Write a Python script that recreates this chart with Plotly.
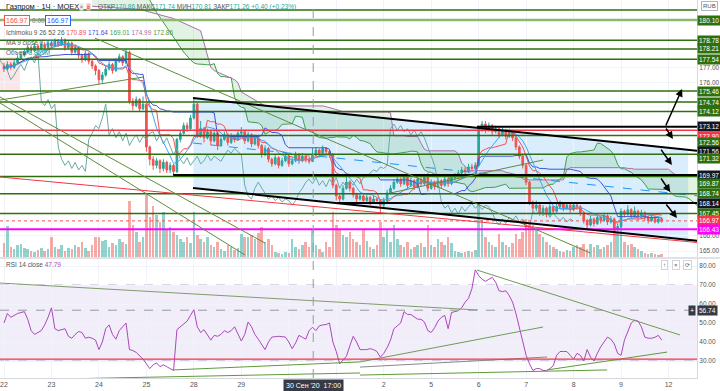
import numpy as np
import pandas as pd
import plotly.graph_objects as go

# ---------------- DATA ----------------
DAY_TICKS = [0, 14, 28, 42, 56, 70, 84, 98, 112, 126, 140, 154, 168, 182, 196]
DAY_LABELS = ["22", "23", "24", "25", "28", "29", "", "", "2", "5", "6", "7", "8", "9", "12"]

FIRST_OPEN = 177.1
CLOSE = [
    176.9, 177.2, 177.0, 177.3, 177.6,
    177.8, 178.0, 178.3, 178.1, 178.4, 178.2, 178.5, 178.3, 178.6,
    178.4, 178.7, 178.5, 178.8, 178.3, 178.6,
    178.0, 178.3, 177.8, 177.5, 177.9, 177.4, 177.1,
    176.8, 176.2, 176.5, 176.9,
    177.2, 176.8, 177.4, 177.7, 177.3,
    178.0, 174.8,
    174.5, 174.9, 174.3, 174.6,
    171.8, 171.0, 170.6,
    170.9, 170.4, 170.8, 170.3, 170.6,
    170.2,
    172.3, 172.7, 173.2, 173.0, 173.7,
    174.6, 172.6,
    173.0, 172.4, 172.8, 172.2, 172.7, 171.9, 172.3, 172.6, 172.1, 172.5, 172.3, 172.7,
    172.8, 172.2, 172.6, 172.0, 172.4,
    171.9, 171.3, 171.7, 171.0, 170.7,
    171.1, 170.6, 170.9, 171.2, 170.7, 170.9, 171.3,
    170.9, 171.2, 171.0, 170.86,
    171.26, 171.6, 171.4, 171.7, 171.5, 171.3,
    169.3, 168.6, 168.4,
    169.1, 169.5, 169.1,
    168.7, 168.4, 168.6, 168.3, 168.5, 168.2, 168.4, 168.3,
    168.0,
    168.3, 168.8, 169.1, 169.5, 169.7,
    169.4, 169.8, 169.3, 169.6, 169.2, 169.7, 169.4, 169.8,
    169.1,
    169.5, 169.2, 169.6, 169.3, 169.7, 169.4, 169.8,
    169.9, 170.1, 170.3, 170.2, 170.5, 170.4, 170.6,
    173.0,
    173.3, 172.9, 173.2,
    172.8, 173.0, 172.6, 172.9, 172.5, 172.8, 172.4,
    171.8, 171.2, 170.6,
    169.5, 168.2,
    167.8, 168.0, 167.5, 167.8, 167.4, 167.9, 167.6,
    167.9, 168.1, 167.8, 168.0, 167.7, 168.0, 167.9,
    167.5, 167.0, 166.7, 167.1, 166.8, 167.2,
    167.0, 167.3, 166.9, 167.1,
    166.4, 166.6,
    167.6,
    167.4, 167.7, 167.3, 167.6, 167.2, 167.5,
    167.2, 167.0, 167.2, 166.9, 167.1, 166.97,
]
HIGH = [
    177.3, 177.4, 177.35, 177.5, 177.8,
    178.0, 178.2, 178.5, 178.45, 178.6, 178.55, 178.7, 178.65, 178.8,
    178.75, 178.9, 178.85, 179.0, 178.9, 178.8,
    178.7, 178.5, 178.4, 177.9, 178.1, 178.0, 177.5,
    177.2, 176.9, 176.7, 177.1,
    177.4, 177.3, 177.6, 177.9, 177.8,
    178.2, 178.1,
    175.0, 175.1, 175.0, 175.1,
    174.7, 171.9, 171.2,
    171.1, 171.0, 171.0, 170.9, 170.8,
    170.7,
    172.4, 172.9, 173.4, 173.4, 173.9,
    175.0, 174.7,
    173.5, 173.1, 173.0, 172.9, 172.9, 172.8, 172.5, 172.8, 172.7, 172.7, 172.6, 172.9,
    173.1, 172.9, 172.8, 172.7, 172.6,
    172.5, 172.0, 171.9, 171.8, 171.1,
    171.3, 171.2, 171.1, 171.4, 171.3, 171.1, 171.5,
    171.4, 171.4, 171.3, 171.2,
    171.74, 171.8, 171.7, 171.9, 171.8, 171.6,
    171.4, 169.4, 168.8,
    169.3, 169.9, 169.6,
    169.2, 168.8, 168.8, 168.7, 168.7, 168.6, 168.6, 168.5,
    168.4,
    168.5, 169.0, 169.3, 169.7, 169.9,
    169.8, 170.0, 169.9, 169.8, 169.7, 169.9, 169.8, 170.0,
    170.1,
    169.7, 169.6, 169.8, 169.7, 169.9, 169.8, 170.0,
    170.1, 170.3, 170.5, 170.5, 170.7, 170.7, 170.8,
    173.2,
    173.5, 173.5, 173.4,
    173.3, 173.2, 173.1, 173.1, 173.0, 173.0, 172.9,
    172.5, 171.9, 171.3,
    170.7, 169.6,
    168.3, 168.3, 168.1, 168.0, 167.9, 168.1, 168.0,
    168.1, 168.3, 168.2, 168.2, 168.1, 168.2, 168.1,
    168.0, 167.6, 167.1, 167.3, 167.2, 167.4,
    167.3, 167.5, 167.4, 167.3,
    167.2, 166.8,
    167.8,
    167.7, 168.0, 167.8, 167.9, 167.7, 167.7,
    167.6, 167.3, 167.4, 167.3, 167.2, 167.2,
]
LOW = [
    176.7, 176.8, 176.85, 176.9, 177.2,
    177.5, 177.7, 177.9, 177.95, 178.0, 178.05, 178.1, 178.15, 178.2,
    178.25, 178.3, 178.35, 178.4, 178.1, 178.2,
    177.8, 177.9, 177.6, 177.3, 177.4, 177.2, 176.9,
    176.5, 175.9, 176.0, 176.4,
    176.8, 176.6, 176.7, 177.3, 177.1,
    177.2, 174.6,
    174.2, 174.4, 174.1, 174.2,
    171.5, 170.6, 170.3,
    170.4, 170.1, 170.2, 170.1, 170.1,
    169.97,
    170.1, 172.1, 172.6, 172.8, 172.9,
    173.6, 172.4,
    172.4, 172.1, 172.3, 171.9, 172.1, 171.6, 171.8, 172.2, 171.9, 172.0, 172.1, 172.2,
    172.5, 172.0, 172.1, 171.8, 171.9,
    171.7, 171.1, 171.2, 170.8, 170.5,
    170.6, 170.4, 170.5, 170.8, 170.5, 170.6, 170.8,
    170.7, 170.8, 170.8, 170.7,
    170.81, 171.2, 171.2, 171.3, 171.3, 171.1,
    169.1, 168.3, 168.1,
    168.3, 169.0, 168.9,
    168.5, 168.2, 168.3, 168.1, 168.2, 168.0, 168.1, 168.1,
    167.4,
    167.8, 168.2, 168.7, 169.0, 169.4,
    169.2, 169.3, 169.1, 169.2, 169.0, 169.1, 169.2, 169.3,
    168.9,
    169.0, 169.0, 169.1, 169.1, 169.2, 169.2, 169.3,
    169.6, 169.8, 170.0, 170.0, 170.1, 170.2, 170.3,
    170.5,
    172.8, 172.7, 172.8,
    172.6, 172.7, 172.4, 172.5, 172.3, 172.4, 172.2,
    171.6, 171.0, 170.4,
    169.3, 168.0,
    167.5, 167.6, 167.3, 167.4, 167.2, 167.3, 167.4,
    167.5, 167.8, 167.6, 167.7, 167.5, 167.6, 167.7,
    167.3, 166.8, 166.5, 166.6, 166.6, 166.7,
    166.8, 166.9, 166.7, 166.8,
    166.2, 166.3,
    166.5,
    167.2, 167.3, 167.1, 167.2, 167.0, 167.1,
    167.0, 166.8, 166.9, 166.8, 166.8, 166.85,
]
VOLUME_M = [
    4.4, 9.8, 3.2, 2.5, 3.8,
    4.1, 2.8, 2.5, 1.9, 1.6, 2.2, 2.8, 1.9, 2.5,
    6.3, 3.2, 2.5, 3.8, 1.9, 2.8,
    2.5, 3.8, 3.2, 4.7, 2.8, 1.9, 3.8,
    6.3, 6.3, 5.1, 5.4,
    3.2, 4.4, 3.8, 5.7, 4.7,
    4.1, 17.7,
    10.1, 7.9, 4.7, 6.3,
    19.6, 12.7, 16.1,
    13.3, 11.1, 14.2, 8.9, 9.5,
    7.9,
    7.0, 5.7, 4.7, 6.3, 4.4,
    14.2, 7.0,
    5.7, 4.7, 6.3, 3.8, 3.2, 4.7, 2.5, 1.9, 3.8, 3.2, 2.2, 2.8,
    7.3, 6.3, 6.3, 7.0, 5.7,
    7.6, 9.5, 4.7, 5.7, 3.8,
    1.6, 1.3, 0.9, 1.6, 1.3, 5.7, 3.2,
    2.5, 3.8, 4.7, 3.2,
    8.859, 3.8, 2.5, 1.6, 4.7, 3.2,
    14.2, 10.1, 8.5,
    7.0, 6.3, 7.9,
    5.7, 4.7, 3.8, 8.5, 5.1, 3.2, 2.5, 3.8,
    11.1,
    6.3, 8.9, 4.7, 10.1, 5.7,
    3.8, 3.2, 4.7, 2.5, 3.2, 3.8, 4.4, 3.2,
    10.1,
    3.8, 3.2, 5.7, 4.7, 3.8, 6.3, 4.4,
    1.9, 1.6, 1.3, 1.6, 1.9, 1.6, 2.2,
    16.8,
    11.7, 6.3, 4.7,
    3.8, 3.2, 7.3, 4.7, 3.8, 3.2, 4.4,
    7.3, 5.7, 7.9,
    12.0, 10.4,
    10.1, 8.9, 7.3, 6.3, 4.7, 3.8, 3.2,
    2.5, 1.9, 1.6, 2.2, 1.9, 3.2, 3.8,
    3.2, 4.1, 2.5, 4.1, 3.2, 3.8,
    2.5, 3.2, 3.8, 4.7,
    9.5, 7.9,
    9.5,
    4.7, 3.8, 4.1, 3.2, 2.5, 1.9,
    1.3, 0.9, 1.3, 0.9, 0.6, 0.9,
]
RSI = [
    50, 55, 53, 54, 55, 55.5, 56, 52, 46, 44,
    45, 46, 49, 53, 58, 47, 46, 46.5, 47, 43,
    42, 44, 45.5, 45, 42, 42.5, 42, 41, 36, 40,
    47, 49, 44, 41.5, 46, 48, 50, 36, 35.5, 34.5,
    33, 31, 28.5, 26, 28, 29, 27, 28, 27, 26,
    25, 46.5, 48, 49.5, 51, 54, 57, 48, 45, 46.5,
    44, 41, 43.5, 43, 44, 46, 45, 46, 48, 44,
    40.5, 44, 50.5, 48, 44, 41.5, 39, 36, 40, 42.6,
    42.8, 43, 42.8, 42.6, 40, 36.5, 39.5, 43.5, 42.5, 41.5,
    46, 47.79, 46, 48.5, 49, 49.2, 50, 40, 35, 28.5,
    30.5, 32.5, 38, 43, 40, 36, 36, 36, 36.5, 36,
    35, 32, 34, 37, 41, 47, 48.5, 50, 56, 54.5,
    54.5, 53, 52, 52, 50.5, 46, 45, 47.5, 51, 53,
    54, 47, 55.5, 56, 56.5, 58, 61, 63, 68, 78,
    75, 73, 72, 73, 74, 71.5, 67, 66.5, 67, 64.5,
    61, 55, 48, 40, 33, 28.5, 25, 26, 26, 25,
    25, 26, 27.5, 33, 35, 35, 35, 33, 31, 34,
    33, 30, 36, 32, 30, 34, 37.5, 40, 42.6, 41.5,
    39, 34, 33, 41, 46, 50, 51.5, 51, 48, 42.6,
    42, 42, 42.5, 43.5, 41,
]

# Ichimoku leading spans that depend on bars before the window: bar, price
LEAD_A_EARLY_X = [26, 42, 45, 50, 53, 55]
LEAD_A_EARLY = [182.5, 181.8, 180.6, 179.0, 178.0, 177.5]
LEAD_B_EARLY_X = [26, 40, 50, 58, 61, 62, 68, 69, 70, 76]
LEAD_B_EARLY = [181.0, 180.8, 180.2, 179.4, 177.0, 176.8, 176.2, 176.0, 175.4, 174.6]

# horizontal drawings (price levels)
GREEN_LEVELS = [180.75, 180.10, 178.78, 178.21, 177.54, 175.46, 174.74, 174.12, 172.56, 171.32, 169.87, 168.74, 167.45]
BLACK_LEVELS = [173.12, 169.97, 168.14]
BLACK_LEVEL_START = [139.5, 49.9, 98.2]
RED_LEVEL = 172.90
MAGENTA_LEVEL = 166.43
LAST_PRICE = 166.97

# parallel channel anchors (bar, price)
CHANNEL_TOP = [(55.75, 175.00), (204.4, 171.55)]
CHANNEL_BOTTOM = [(55.75, 169.12), (204.4, 165.67)]
CHANNEL_FILL_END = 201.8

# trend lines (bar, price)
GREEN_TRENDS = [
    ((26.8, 178.92), (172.9, 164.87)),
    ((-1.18, 175.07), (77.0, 165.52)),
    ((-1.18, 174.68), (71.1, 164.74)),
    ((-1.18, 174.87), (41.0, 176.37)),
    ((113.9, 168.79), (159.0, 170.95)),
]
RED_TREND = ((-1.18, 169.84), (204.4, 165.56))
ARROWS = [  # (head, tail)
    ((200.0, 175.59), (195.0, 173.11)),
    ((197.3, 172.32), (195.0, 173.11)),
    ((197.0, 170.62), (193.5, 171.73)),
    ((196.5, 168.86), (193.5, 169.84)),
    ((198.5, 167.16), (195.0, 168.14)),
]
PINK_BOX = ((-1.18, 175.52), (4.7, 177.68))

# RSI trend lines (bar, rsi)
RSI_TRENDS = [
    ((-1.18, 71.05), (139.8, 56.84), "#7f9c6b"),
    ((139.5, 77.9), (199.4, 43.7), "#6f9a55"),
    ((105.0, 29.5), (159.0, 47.9), "#6f9a55"),
    ((105.0, 26.8), (160.2, 32.1), "#888888"),
    ((160.2, 25.3), (195.6, 34.7), "#5e9a3a"),
    ((105.0, 22.6), (177.9, 25.3), "#5e9a3a"),
    ((49.9, 25.3), (105.0, 29.5), "#5e9a3a"),
    ((1.8, 20.0), (105.0, 23.7), "#5e9a3a"),
]
RSI_RED = 31.0
CROSS_BAR = 91.2
CROSS_RSI = 56.74

# price-axis labels: text, price, colour, vertical nudge (px)
AXIS_LABELS = [
    ("180.10", 180.10, "#2f6f0e", 0), ("178.78", 178.78, "#2f6f0e", 0),
    ("178.21", 178.21, "#2f6f0e", 0), ("177.54", 177.54, "#2f6f0e", 0),
    ("175.46", 175.46, "#2f6f0e", 0), ("174.74", 174.74, "#2f6f0e", 0),
    ("174.12", 174.12, "#2f6f0e", 0), ("173.12", 173.12, "#131722", 0),
    ("172.90", 172.90, "#f23645", -6), ("172.56", 172.56, "#2f6f0e", -7.5),
    ("171.56", 171.56, "#131722", -1), ("171.32", 171.32, "#2f6f0e", -4.6),
    ("169.97", 169.97, "#131722", 0), ("169.87", 169.87, "#2f6f0e", -6.5),
    ("168.74", 168.74, "#2f6f0e", 0), ("168.14", 168.14, "#131722", 0),
    ("167.45", 167.45, "#2f6f0e", 0), ("166.97", 166.97, "#f23645", 0),
    ("166.43", 166.43, "#ff00ff", 0),
]

# ---------------- DERIVED ----------------
N = len(CLOSE)
X = list(range(N))
OPEN = [FIRST_OPEN] + CLOSE[:-1]
h = pd.Series(HIGH)
l = pd.Series(LOW)
c = pd.Series(CLOSE)
tenkan = (h.rolling(9, min_periods=1).max() + l.rolling(9, min_periods=1).min()) / 2
kijun = (h.rolling(26, min_periods=1).max() + l.rolling(26, min_periods=1).min()) / 2
la = ((tenkan + kijun) / 2)
leadA_x = LEAD_A_EARLY_X + [i + 26 for i in X if i >= 30]
leadA = LEAD_A_EARLY + [la[i] for i in X if i >= 30]
lb = ((h.rolling(52).max() + l.rolling(52).min()) / 2)
leadB_x = LEAD_B_EARLY_X + [i + 26 for i in X if i >= 51]
leadB = LEAD_B_EARLY + [lb[i] for i in X if i >= 51]
ma9 = c.rolling(9, min_periods=1).mean()

# ---------------- FIGURE ----------------
W, H = 720, 391
PL, PR, PT, PB = 0, 23, 0, 13
PW, PH = W - PL - PR, H - PT - PB
MAIN_BOTTOM_PX = 257
RSI_TOP_PX = 259
X0, X1 = -1.18, 204.4
FONT = "Liberation Sans, Arial, sans-serif"
UP, DOWN = "#26a69a", "#ef5350"


def px(xp, yp):
    return xp / PW, 1 - yp / PH


fig = go.Figure()

fig.add_trace(go.Scatter(
    x=leadA_x + leadB_x[::-1], y=leadA + leadB[::-1], fill="toself",
    fillcolor="rgba(76,175,80,0.16)", line=dict(width=0), hoverinfo="skip",
    xaxis="x", yaxis="y"))
fig.add_trace(go.Scatter(x=leadA_x, y=leadA, mode="lines", line=dict(color="#43a047", width=1),
                         xaxis="x", yaxis="y"))
fig.add_trace(go.Scatter(x=leadB_x, y=leadB, mode="lines", line=dict(color="#ab6fb0", width=1),
                         xaxis="x", yaxis="y"))

vcol = ["rgba(38,166,154,0.5)" if CLOSE[i] >= OPEN[i] else "rgba(239,83,80,0.5)" for i in X]
fig.add_trace(go.Bar(x=X, y=VOLUME_M, marker=dict(color=vcol, line=dict(width=0)),
                     width=0.75, xaxis="x", yaxis="y3"))

fig.add_trace(go.Scatter(x=[i - 26 for i in X], y=CLOSE, mode="lines",
                         line=dict(color="#6aaaa3", width=1), xaxis="x", yaxis="y"))
fig.add_trace(go.Candlestick(
    x=X, open=OPEN, high=HIGH, low=LOW, close=CLOSE,
    increasing=dict(line=dict(color=UP, width=1), fillcolor=UP),
    decreasing=dict(line=dict(color=DOWN, width=1), fillcolor=DOWN),
    whiskerwidth=0, xaxis="x", yaxis="y"))
fig.add_trace(go.Scatter(x=X, y=tenkan, mode="lines", line=dict(color="#ef5350", width=1),
                         xaxis="x", yaxis="y"))
fig.add_trace(go.Scatter(x=X, y=kijun, mode="lines", line=dict(color="#3f51d5", width=1),
                         xaxis="x", yaxis="y"))
fig.add_trace(go.Scatter(x=X, y=ma9, mode="lines", line=dict(color="#42a5f5", width=1),
                         xaxis="x", yaxis="y"))

fig.add_trace(go.Scatter(x=X, y=RSI, mode="lines", line=dict(color="#ab47bc", width=1),
                         xaxis="x2", yaxis="y2"))

shapes = []
t0, t1 = CHANNEL_TOP
b0, b1 = CHANNEL_BOTTOM


def interp(p0, p1, xx):
    return p0[1] + (p1[1] - p0[1]) * (xx - p0[0]) / (p1[0] - p0[0])


fe = CHANNEL_FILL_END
path = (f"M {t0[0]},{t0[1]} L {fe},{interp(t0, t1, fe)} L {fe},{interp(b0, b1, fe)} "
        f"L {b0[0]},{b0[1]} Z")
shapes.append(dict(type="path", path=path, xref="x", yref="y", fillcolor="rgba(33,150,243,0.17)",
                   line=dict(width=0), layer="below"))
shapes.append(dict(type="line", xref="x", yref="y", x0=t0[0], y0=(t0[1] + b0[1]) / 2,
                   x1=t1[0], y1=(t1[1] + b1[1]) / 2, line=dict(color="#2196f3", width=1, dash="dash")))
shapes.append(dict(type="rect", xref="x", yref="y", x0=PINK_BOX[0][0], y0=PINK_BOX[0][1],
                   x1=PINK_BOX[1][0], y1=PINK_BOX[1][1], fillcolor="rgba(242,54,69,0.13)",
                   line=dict(width=0), layer="below"))
for p in GREEN_LEVELS:
    col = "#8db86f" if p == 180.10 else "#2f6f0e"
    wd = 2.5 if p == 180.10 else 1.5
    shapes.append(dict(type="line", xref="paper", yref="y", x0=0, x1=1, y0=p, y1=p,
                       line=dict(color=col, width=wd)))
shapes.append(dict(type="line", xref="paper", yref="y", x0=0, x1=1, y0=RED_LEVEL, y1=RED_LEVEL,
                   line=dict(color="#f23645", width=1.5)))
shapes.append(dict(type="line", xref="paper", yref="y", x0=0, x1=1, y0=MAGENTA_LEVEL, y1=MAGENTA_LEVEL,
                   line=dict(color="#ff00ff", width=2)))
shapes.append(dict(type="line", xref="paper", yref="y", x0=0, x1=1, y0=LAST_PRICE, y1=LAST_PRICE,
                   line=dict(color="#ef5350", width=1, dash="dot")))
for p, s in zip(BLACK_LEVELS, BLACK_LEVEL_START):
    shapes.append(dict(type="line", xref="x", yref="y", x0=s, x1=X1, y0=p, y1=p,
                       line=dict(color="#000000", width=2)))
for a, b in GREEN_TRENDS:
    shapes.append(dict(type="line", xref="x", yref="y", x0=a[0], y0=a[1], x1=b[0], y1=b[1],
                       line=dict(color="#5e8c3a", width=1)))
shapes.append(dict(type="line", xref="x", yref="y", x0=RED_TREND[0][0], y0=RED_TREND[0][1],
                   x1=RED_TREND[1][0], y1=RED_TREND[1][1], line=dict(color="#f23645", width=1)))
for a, b in (CHANNEL_TOP, CHANNEL_BOTTOM):
    shapes.append(dict(type="line", xref="x", yref="y", x0=a[0], y0=a[1], x1=b[0], y1=b[1],
                       line=dict(color="#000000", width=2)))

shapes.append(dict(type="rect", xref="paper", yref="y2", x0=0, x1=1, y0=30, y1=70,
                   fillcolor="rgba(126,87,194,0.10)", line=dict(width=0), layer="below"))
for lv in (70, 30):
    shapes.append(dict(type="line", xref="paper", yref="y2", x0=0, x1=1, y0=lv, y1=lv,
                       line=dict(color="#b2a6c8", width=1, dash="dash"), layer="below"))
for a, b, col in RSI_TRENDS:
    shapes.append(dict(type="line", xref="x2", yref="y2", x0=a[0], y0=a[1], x1=b[0], y1=b[1],
                       line=dict(color=col, width=1)))
shapes.append(dict(type="line", xref="paper", yref="y2", x0=0, x1=1, y0=RSI_RED, y1=RSI_RED,
                   line=dict(color="#f23645", width=1.2)))
shapes.append(dict(type="line", xref="x", yref="paper", x0=CROSS_BAR, x1=CROSS_BAR, y0=0, y1=1,
                   line=dict(color="#9598a1", width=1, dash="dash")))
shapes.append(dict(type="line", xref="paper", yref="y2", x0=0, x1=1, y0=CROSS_RSI, y1=CROSS_RSI,
                   line=dict(color="#9598a1", width=1, dash="dash")))
sy = 1 - (MAIN_BOTTOM_PX + 1) / PH
shapes.append(dict(type="line", xref="paper", yref="paper", x0=0, x1=1.04, y0=sy, y1=sy,
                   line=dict(color="#d6d8de", width=1.5)))

ann = []
for (hd, tl) in ARROWS:
    ann.append(dict(x=hd[0], y=hd[1], ax=tl[0], ay=tl[1], xref="x", yref="y", axref="x", ayref="y",
                    showarrow=True, arrowhead=2, arrowsize=1, arrowwidth=1.5, arrowcolor="#000000", text=""))
for txt_, p, col, sh in AXIS_LABELS:
    ann.append(dict(x=1, y=p, xref="paper", yref="y", xanchor="left", yanchor="middle", xshift=0,
                    yshift=sh, text=txt_, showarrow=False, bgcolor=col, borderpad=1,
                    font=dict(color="white", size=6.5, family=FONT)))
ann.append(dict(x=1, y=181.05, xref="paper", yref="y", xanchor="left", yanchor="middle", xshift=4,
                text="RUB", showarrow=False, bgcolor="white", bordercolor="#b2b5be", borderwidth=1,
                borderpad=1, font=dict(color="#555", size=6, family=FONT)))
ann.append(dict(x=1, y=CROSS_RSI, xref="paper", yref="y2", xanchor="left", yanchor="middle", xshift=0,
                text="56.74", showarrow=False, bgcolor="#363a45", borderpad=1,
                font=dict(color="white", size=6.5, family=FONT)))
ann.append(dict(x=1, y=CROSS_RSI, xref="paper", yref="y2", xanchor="right", yanchor="middle", xshift=-1,
                text="+", showarrow=False, bgcolor="#363a45", borderpad=1,
                font=dict(color="white", size=7, family=FONT)))
cx, cyy = px(313, 385)
ann.append(dict(x=cx, y=cyy, xref="paper", yref="paper", xanchor="center", yanchor="middle",
                text="30 Сен '20&nbsp;&nbsp;17:00", showarrow=False, bgcolor="#363a45", borderpad=2,
                font=dict(color="white", size=7, family=FONT)))


def txt(xp, yp, t, size=7, color="#131722", **kw):
    xx, yy = px(xp, yp)
    d = dict(x=xx, y=yy, xref="paper", yref="paper", xanchor="left", yanchor="middle", text=t,
             showarrow=False, font=dict(color=color, size=size, family=FONT))
    d.update(kw)
    ann.append(d)


G = "#26a69a"
txt(4, 7, "Газпром · 1Ч · MOEX", size=7.5, color="#131722")
txt(79, 7, "=", size=5, color="#777", bgcolor="#e8e8e8", borderpad=0)
txt(86, 7, "≡", size=5, color="#c33", bgcolor="#f8b5b5", borderpad=0)
txt(96, 7, f"ОТКР<span style='color:{G}'>170.86</span> МАКС<span style='color:{G}'>171.74</span> "
           f"МИН<span style='color:{G}'>170.81</span> ЗАКР<span style='color:{G}'>171.26 +0.40 (+0.23%)</span>",
    size=6.5, color="#555")
txt(4, 20, "166.97", size=7, color="#ef5350", bgcolor="white", bordercolor="#ef5350", borderwidth=1, borderpad=1)
txt(30, 20, "0.00", size=6.5, color="#787b86")
txt(45, 20, "166.97", size=7, color="#2962ff", bgcolor="white", bordercolor="#2962ff", borderwidth=1, borderpad=1)
txt(4, 32, "Ichimoku 9 26 52 26 <span style='color:#ef5350'>170.89</span> <span style='color:#3f51d5'>171.64</span> "
           "<span style='color:#43a047'>169.01</span> <span style='color:#ab6fb0'>174.99</span> "
           "<span style='color:#43a047'>172.86</span>", size=6.5, color="#555")
txt(4, 42, "MA 9 close 0 <span style='color:#2196f3'>170.82</span>", size=6.5, color="#555")
txt(4, 52, "Объем <span style='color:#26a69a'>8.859M</span>", size=6.5, color="#555")
txt(4, 264, "RSI 14 close <span style='color:#ab47bc'>47.79</span>", size=6.5, color="#555")
for i, sym in enumerate(["↑", "×", "⟳"]):
    txt(661 + i * 11, 265, sym, size=6, color="#555", bgcolor="white", bordercolor="#d1d4dc",
        borderwidth=1, borderpad=1)

main_dom = [1 - MAIN_BOTTOM_PX / PH, 1]
rsi_dom = [0, 1 - RSI_TOP_PX / PH]

fig.update_layout(
    width=W, height=H, margin=dict(l=PL, r=PR, t=PT, b=PB),
    paper_bgcolor="white", plot_bgcolor="white", showlegend=False,
    font=dict(family=FONT, size=7, color="#555"),
    shapes=shapes, annotations=ann, bargap=0,
    xaxis=dict(domain=[0, 1], range=[X0, X1], anchor="y", showticklabels=False,
               tickvals=DAY_TICKS, showgrid=True, gridcolor="#f0f3fa", zeroline=False,
               rangeslider=dict(visible=False), automargin=False),
    xaxis2=dict(domain=[0, 1], range=[X0, X1], anchor="y2", matches="x", tickvals=DAY_TICKS,
                ticktext=DAY_LABELS, showgrid=True, gridcolor="#f0f3fa", zeroline=False,
                showline=True, linecolor="#d6d8de", ticks="", tickfont=dict(size=7, color="#555"),
                automargin=False),
    yaxis=dict(domain=main_dom, range=[164.61, 181.41], side="right", anchor="x",
               tickvals=[165, 166, 176, 177], ticktext=["165.00", "166.00", "176.00", "177.00"],
               showgrid=True, gridcolor="#f0f3fa", zeroline=False, showline=True,
               linecolor="#d6d8de", ticks="", tickfont=dict(size=6.5, color="#555"), automargin=False),
    yaxis3=dict(domain=main_dom, range=[0, 81.3], overlaying="y", visible=False),
    yaxis2=dict(domain=rsi_dom, range=[21.05, 83.7], side="right", anchor="x2",
                tickvals=[20, 30, 40, 50, 60, 70, 80],
                ticktext=["20.00", "30.00", "40.00", "50.00", "60.00", "70.00", "80.00"],
                showgrid=True, gridcolor="#f0f3fa", zeroline=False, showline=True,
                linecolor="#d6d8de", ticks="", tickfont=dict(size=6.5, color="#555"), automargin=False),
)

fig.write_html("out.html", config={"displayModeBar": False},
               post_script="document.body.style.margin='0';document.body.style.padding='0';")
